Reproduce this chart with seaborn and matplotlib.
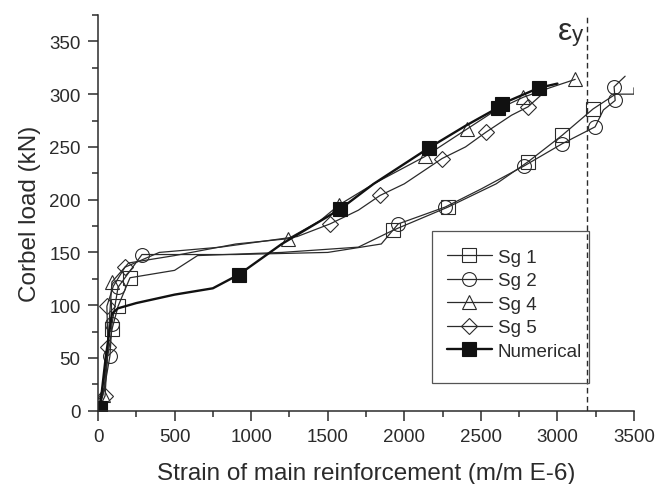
import numpy as np
import pandas as pd
import matplotlib
matplotlib.use("Agg")
import matplotlib.pyplot as plt
from matplotlib.patches import Rectangle
import seaborn as sns

# ---- data ----
sg1_x = [0, 40, 91, 131, 209, 500, 650, 1200, 1700, 1927, 2286, 2600, 2809, 3031, 3233, 3380, 3500, 3500]
sg1_y = [0, 30, 77, 99, 126, 133, 147, 150, 155, 171, 193, 215, 236, 261, 286, 300, 300, 306]
sg1_marks = [2, 3, 4, 9, 10, 12, 13, 14]

sg2_x = [0, 40, 78, 91, 131, 287, 900, 1500, 1850, 1960, 2267, 2500, 2783, 3031, 3246, 3300, 3377, 3370, 3442]
sg2_y = [0, 20, 52, 82, 117, 148, 148, 150, 158, 177, 193, 210, 232, 253, 269, 285, 294, 307, 317]
sg2_marks = [2, 3, 4, 5, 9, 10, 12, 13, 14, 16, 17]

sg4_x = [0, 33, 55, 75, 91, 200, 500, 900, 1241, 1450, 1574, 1800, 2136, 2410, 2600, 2776, 2950, 3116]
sg4_y = [0, 15, 40, 88, 122, 140, 147, 158, 163, 180, 195, 215, 241, 267, 285, 297, 306, 314]
sg4_marks = [1, 4, 8, 10, 12, 13, 15, 17]

sg5_x = [0, 46, 65, 58, 100, 176, 400, 800, 1300, 1515, 1700, 1842, 2000, 2247, 2400, 2534, 2700, 2808, 2900]
sg5_y = [0, 14, 60, 99, 118, 136, 150, 155, 165, 177, 190, 204, 215, 239, 250, 264, 280, 288, 300]
sg5_marks = [1, 2, 3, 5, 9, 11, 13, 15, 17]

num_x = [0, 13, 50, 91, 130, 250, 500, 750, 920, 1200, 1581, 1800, 2160, 2400, 2610, 2640, 2880, 3000]
num_y = [0, 3, 50, 92, 97, 102, 110, 116, 129, 158, 191, 215, 249, 270, 287, 291, 306, 310]
num_marks = [1, 8, 10, 12, 14, 15, 16]

eps_y = 3195

x_ticks = [0, 500, 1000, 1500, 2000, 2500, 3000, 3500]
y_ticks = [0, 50, 100, 150, 200, 250, 300, 350]

sns.set_style("ticks")
plt.rcParams['font.family'] = ['Liberation Sans', 'DejaVu Sans']

fig = plt.figure(figsize=(6.59, 4.85), dpi=100)
ax = fig.add_axes([98/659, 1 - 411.7/485, 536/659, 395.7/485])

ink = '#2b2b2b'
series = [
    ("Sg 1", sg1_x, sg1_y, sg1_marks, 's', 9.5),
    ("Sg 2", sg2_x, sg2_y, sg2_marks, 'o', 10),
    ("Sg 4", sg4_x, sg4_y, sg4_marks, '^', 10.5),
    ("Sg 5", sg5_x, sg5_y, sg5_marks, 'D', 8.5),
]
for name, xs, ys, mk, m, ms in series:
    df = pd.DataFrame({"x": xs, "y": ys})
    sns.lineplot(data=df, x="x", y="y", sort=False, estimator=None, ax=ax,
                 color=ink, lw=0.9, marker=m, markersize=ms, markevery=mk,
                 markerfacecolor='none', markeredgecolor=ink, markeredgewidth=0.8,
                 label=name, legend=False)

df = pd.DataFrame({"x": num_x, "y": num_y})
sns.lineplot(data=df, x="x", y="y", sort=False, estimator=None, ax=ax,
             color='#111111', lw=1.7, marker='s', markersize=10, markevery=num_marks,
             markerfacecolor='#111111', markeredgecolor='#111111', markeredgewidth=0.8,
             label="Numerical", legend=False)

ax.axvline(eps_y, color=ink, lw=1.0, linestyle=(0, (4, 2.5)), zorder=1)
ax.text(3000, 352, "ε", fontsize=23, color=ink, ha='left', va='baseline')
ax.text(3092, 351, "y", fontsize=16, color=ink, ha='left', va='baseline')

ax.set_xlim(0, 3500)
ax.set_ylim(0, 375)
ax.set_xticks(x_ticks)
ax.set_yticks(y_ticks)
ax.set_xticks(np.arange(250, 3500, 500), minor=True)
ax.set_yticks(np.arange(25, 376, 50), minor=True)
ax.tick_params(which='major', direction='out', length=7.5, width=1.1, labelsize=13.5,
               colors=ink, pad=5)
ax.tick_params(which='minor', direction='out', length=4, width=1.1, colors=ink)
for s in ['top', 'right']:
    ax.spines[s].set_visible(False)
for s in ['left', 'bottom']:
    ax.spines[s].set_linewidth(1.1)
    ax.spines[s].set_color(ink)

ax.set_xlabel("Strain of main reinforcement (m/m E-6)", fontsize=17.5, color=ink, labelpad=12)
ax.set_ylabel("Corbel load (kN)", fontsize=17.5, color=ink, labelpad=6)

ax.add_patch(Rectangle((0.623, 0.070), 0.293, 0.384, transform=ax.transAxes,
                       fill=False, edgecolor='#555555', lw=0.9, zorder=5))
h, l = ax.get_legend_handles_labels()
leg = ax.legend(h, l, loc='upper left', bbox_to_anchor=(0.651, 0.41), frameon=False,
                fontsize=13.5, handlelength=2.4, handletextpad=0.3, labelspacing=0.34,
                borderpad=0, borderaxespad=0, numpoints=1)
for t in leg.get_texts():
    t.set_color(ink)

fig.savefig("out.png", dpi=100)
